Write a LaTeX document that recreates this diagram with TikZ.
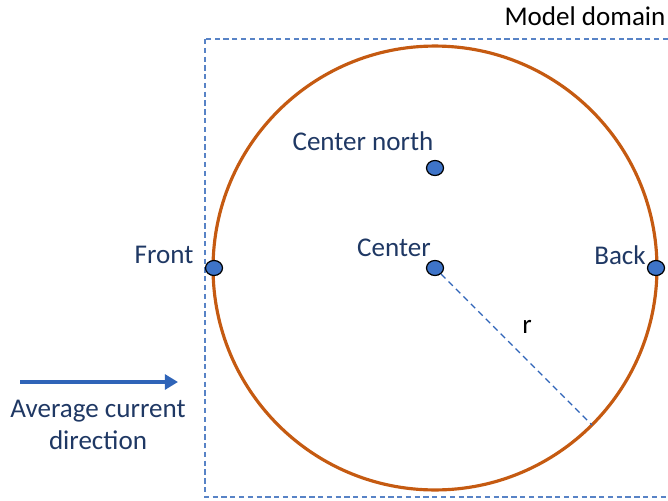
\documentclass[tikz,border=0pt]{standalone}
\usepackage{fontspec}
\setmainfont{Carlito}
\usetikzlibrary{shapes.geometric,arrows.meta}
\definecolor{navytext}{HTML}{1F3864}
\definecolor{rimorange}{HTML}{C55A11}
\definecolor{dotblue}{HTML}{3E74C8}
\definecolor{lineblue}{HTML}{2F64B8}
\tikzset{
  pin/.style={draw=black, line width=0.7pt, fill=dotblue, ellipse, minimum width=0.34cm, minimum height=0.3cm, inner sep=0pt},
  lbl/.style={text=navytext, font=\fontsize{15.4}{18.5}\selectfont, inner sep=0pt},
}
\begin{document}
\begin{tikzpicture}[x=0.02cm, y=-0.02cm]
				\useasboundingbox (0,0) rectangle (668,500);
				% model domain
				\draw[lineblue!80, line width=0.8pt, dash pattern=on 3pt off 2pt] (205,39) rectangle (690,497);
				\node[lbl, text=black, anchor=base] (dom) at (585,26) {Model domain};
				% sampling circle
				\coordinate (mid) at (435,268);
				\draw[rimorange, line width=1.8pt] (mid) circle[radius=4.44cm];
				\coordinate (rim) at (592,425);
				\node[pin] (C) at (435,268) {};
				\node[pin] (N) at (435,168) {};
				\node[pin] (F) at (214,268) {};
				\node[pin] (B) at (656,268) {};
				\draw[lineblue, line width=0.8pt, dash pattern=on 3.5pt off 2.5pt] (C) -- (rim);
				\node[lbl] (Ct) at (394,248) {Center};
				\node[lbl] (Nt) at (363,141) {Center north};
				\node[lbl] (Ft) at (164,255) {Front};
				\node[lbl] (Bt) at (620,255) {Back};
				\node[lbl, text=black] (rt) at (527,327) {r};
				% current
				\coordinate (flowA) at (20,382);
				\coordinate (flowB) at (178,382);
				\draw[lineblue, line width=2.8pt, -{Triangle[length=7.5pt, width=8.5pt]}] (flowA) -- (flowB);
				\node[lbl, align=center] (cur) at (98,425) {Average current\\direction};
			\end{tikzpicture}
\end{document}
